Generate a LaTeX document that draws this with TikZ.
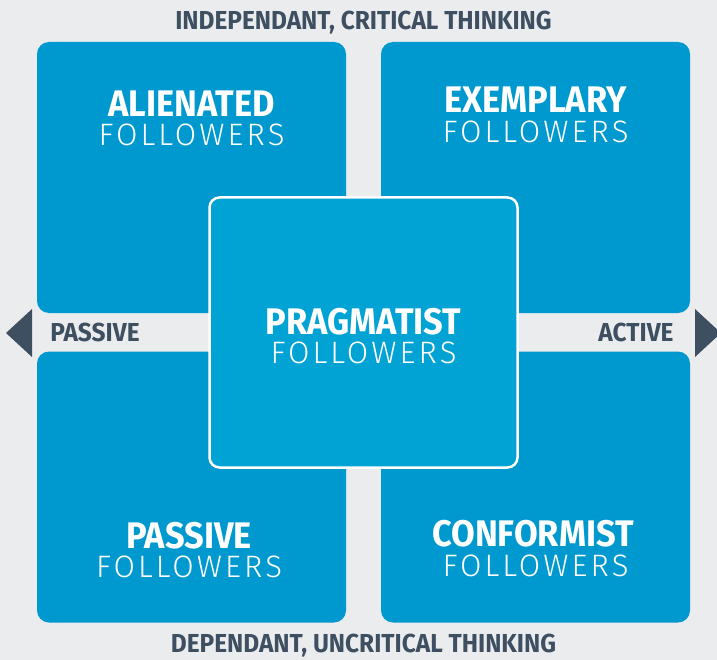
\documentclass[tikz,border=0pt]{standalone}
\usepackage{fontspec}
\usepackage{tikz}
\usetikzlibrary{positioning}
\setmainfont{Fira Sans}
\newfontfamily\headfont{Fira Sans}[FakeStretch=0.93]
\newfontfamily\axisfont{Fira Sans}[FakeStretch=0.94]
\newfontfamily\thinfont{Fira Sans Light}[LetterSpace=10]
\definecolor{canvas}{HTML}{EBECEE}
\definecolor{quadblue}{HTML}{0099CF}
\definecolor{midblue}{HTML}{00A3D4}
\definecolor{slate}{HTML}{3E4F62}
\tikzstyle{quad}  =[rectangle, fill=quadblue, rounded corners=12pt,
                    minimum width=309pt, minimum height=271pt,
                    inner sep=0pt, outer sep=0pt]
\tikzstyle{core}  =[rectangle, fill=midblue, draw=white, line width=2.5pt,
                    rounded corners=10pt, minimum width=308pt,
                    minimum height=270pt, inner sep=0pt]
\tikzstyle{kind}  =[anchor=base, inner sep=0pt, text=white, text depth=0pt,
                    font=\headfont\bfseries\fontsize{37}{37}\selectfont]
\tikzstyle{follow}=[anchor=base, inner sep=0pt, text=white, text depth=0pt,
                    font=\thinfont\fontsize{31}{31}\selectfont]
\tikzstyle{axis}  =[anchor=base, inner sep=0pt, text=slate,
                    font=\axisfont\bfseries\fontsize{26}{26}\selectfont]

\begin{document}
\begin{tikzpicture}[x=1pt, y=-1pt]
            \clip (0,0) rectangle (717,660);
            \fill[canvas] (0,0) rectangle (717,660);

            % four quadrants
            \node (tl) [quad] at (191.5,177.5) {};
            \node (tr) [quad] at (535.5,177.5) {};
            \node (bl) [quad] at (191.5,487) {};
            \node (br) [quad] at (535.5,487) {};
            \node (mid) [core] at (363.5,332.5) {};

            % direction arrows
            \fill[slate] (32,309) -- (6,333) -- (32,357) -- cycle;
            \fill[slate] (695,309) -- (721,333) -- (695,357) -- cycle;

            % labels
            \node (alienated) [kind] at (191.5,117) {ALIENATED};
            \node (alienatedf) [follow] at (191.5,146) {FOLLOWERS};
            \node (exemplary) [kind] at (535.5,113) {EXEMPLARY};
            \node (exemplaryf) [follow] at (535.5,143) {FOLLOWERS};
            \node (pragmatist) [kind] at (363.5,334) {PRAGMATIST};
            \node (pragmatistf) [follow] at (363.5,363) {FOLLOWERS};
            \node (passive) [kind] at (189,548) {PASSIVE};
            \node (passivef) [follow] at (189,577) {FOLLOWERS};
            \node (conformist) [kind] at (533,546) {CONFORMIST};
            \node (conformistf) [follow] at (535.5,576) {FOLLOWERS};

            \node (top) [axis] at (363.5,29.5) {INDEPENDANT, CRITICAL THINKING};
            \node (bottom) [axis] at (363.5,652) {DEPENDANT, UNCRITICAL THINKING};
            \node (left) [axis] at (95,341) {PASSIVE};
            \node (right) [axis] at (636,341) {ACTIVE};

        \end{tikzpicture}
\end{document}
